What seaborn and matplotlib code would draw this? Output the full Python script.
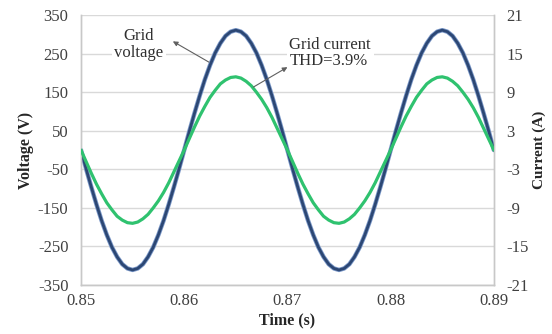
import matplotlib
matplotlib.use("Agg")
import matplotlib.pyplot as plt
import matplotlib.patheffects as pe
import seaborn as sns
import pandas as pd

time_s = [0.8500, 0.8505, 0.8510, 0.8515, 0.8520, 0.8525, 0.8530, 0.8535, 0.8540, 0.8545,
          0.8550, 0.8555, 0.8560, 0.8565, 0.8570, 0.8575, 0.8580, 0.8585, 0.8590, 0.8595,
          0.8600, 0.8605, 0.8610, 0.8615, 0.8620, 0.8625, 0.8630, 0.8635, 0.8640, 0.8645,
          0.8650, 0.8655, 0.8660, 0.8665, 0.8670, 0.8675, 0.8680, 0.8685, 0.8690, 0.8695,
          0.8700, 0.8705, 0.8710, 0.8715, 0.8720, 0.8725, 0.8730, 0.8735, 0.8740, 0.8745,
          0.8750, 0.8755, 0.8760, 0.8765, 0.8770, 0.8775, 0.8780, 0.8785, 0.8790, 0.8795,
          0.8800, 0.8805, 0.8810, 0.8815, 0.8820, 0.8825, 0.8830, 0.8835, 0.8840, 0.8845,
          0.8850, 0.8855, 0.8860, 0.8865, 0.8870, 0.8875, 0.8880, 0.8885, 0.8890, 0.8895,
          0.8900]
voltage_v = [0, -49, -96, -141, -183, -220, -252, -277, -296, -307,
             -311, -307, -296, -277, -252, -220, -183, -141, -96, -49,
             0, 49, 96, 141, 183, 220, 252, 277, 296, 307,
             311, 307, 296, 277, 252, 220, 183, 141, 96, 49,
             0, -49, -96, -141, -183, -220, -252, -277, -296, -307,
             -311, -307, -296, -277, -252, -220, -183, -141, -96, -49,
             0, 49, 96, 141, 183, 220, 252, 277, 296, 307,
             311, 307, 296, 277, 252, 220, 183, 141, 96, 49,
             0]
current_a = [0.0, -1.8, -3.6, -5.3, -6.8, -8.2, -9.3, -10.3, -10.9, -11.3,
             -11.4, -11.2, -10.7, -10.0, -9.0, -7.9, -6.6, -5.1, -3.4, -1.7,
             0.0, 1.8, 3.6, 5.3, 6.8, 8.2, 9.3, 10.3, 10.9, 11.3,
             11.4, 11.2, 10.7, 10.0, 9.0, 7.9, 6.6, 5.1, 3.4, 1.7,
             0.0, -1.8, -3.6, -5.3, -6.8, -8.2, -9.3, -10.3, -10.9, -11.3,
             -11.4, -11.2, -10.7, -10.0, -9.0, -7.9, -6.6, -5.1, -3.4, -1.7,
             0.0, 1.8, 3.6, 5.3, 6.8, 8.2, 9.3, 10.3, 10.9, 11.3,
             11.4, 11.2, 10.7, 10.0, 9.0, 7.9, 6.6, 5.1, 3.4, 1.7,
             0.0]
x_ticks = [0.85, 0.86, 0.87, 0.88, 0.89]
x_tick_labels = ["0.85", "0.86", "0.87", "0.88", "0.89"]
v_ticks = [-350, -250, -150, -50, 50, 150, 250, 350]
a_ticks = [-21, -15, -9, -3, 3, 9, 15, 21]

sns.set_style("white")
plt.rcParams["font.family"] = ["Liberation Serif", "DejaVu Serif"]
plt.rcParams["axes.unicode_minus"] = False

df = pd.DataFrame({"t": time_s, "v": voltage_v, "i": current_a})

fig = plt.figure(figsize=(5.52, 3.34), dpi=100)
ax = fig.add_axes([0.1467, 0.1467, 0.748, 0.808])
ax2 = ax.twinx()

for y in v_ticks:
    ax.axhline(y, color="#d9d9d9", lw=1.0, zorder=0)

sns.lineplot(data=df, x="t", y="v", ax=ax, color="#2c4774", lw=2.0, zorder=3,
             path_effects=[pe.Stroke(linewidth=3.2, foreground="#7b98c8"), pe.Normal()])
sns.lineplot(data=df, x="t", y="i", ax=ax2, color="#2fc26f", lw=2.3, zorder=3)

ax.set_xlim(0.85, 0.89)
ax.set_ylim(-350, 350)
ax2.set_ylim(-21, 21)
ax.set_xticks(x_ticks)
ax.set_xticklabels(x_tick_labels)
ax.set_yticks(v_ticks)
ax2.set_yticks(a_ticks)

for a in (ax, ax2):
    a.tick_params(axis="y", length=0, labelsize=12, labelcolor="#404040", pad=9)
    a.tick_params(axis="x", length=0, labelsize=12, labelcolor="#404040", pad=6)
    for s in ["left", "right", "bottom"]:
        a.spines[s].set_color("#c8c8c8")
        a.spines[s].set_linewidth(1.0)
    a.spines["top"].set_visible(False)

ax.set_xlabel("Time (s)", fontsize=11.5, fontweight="bold", labelpad=2)
ax.set_ylabel("Voltage (V)", fontsize=11.5, fontweight="bold", labelpad=3)
ax2.set_ylabel("Current (A)", fontsize=11, fontweight="bold", labelpad=3)
ax2.set_zorder(ax.get_zorder() + 1)
ax2.patch.set_visible(False)

arrow_style = dict(arrowstyle="-|>", color="#606060", lw=0.8,
                   mutation_scale=7, shrinkA=0, shrinkB=0)

ax.text(0.8556, 274, "Grid\nvoltage", ha="center", va="center",
        fontsize=12, color="#303030", zorder=5, linespacing=1.05,
        bbox=dict(boxstyle="square,pad=0.15", fc="white", ec="none"))
ax.annotate("", xy=(0.8589, 282), xytext=(0.8624, 228),
            arrowprops=arrow_style, zorder=5)
ax.text(0.8702, 252, "Grid current\nTHD=3.9%", ha="left", va="center",
        fontsize=12, color="#303030", zorder=5, linespacing=1.05,
        bbox=dict(boxstyle="square,pad=0.15", fc="white", ec="none"))
ax2.annotate("", xy=(0.8700, 12.9), xytext=(0.8667, 9.8),
             arrowprops=arrow_style, zorder=5)

fig.savefig("out.png", dpi=100)
